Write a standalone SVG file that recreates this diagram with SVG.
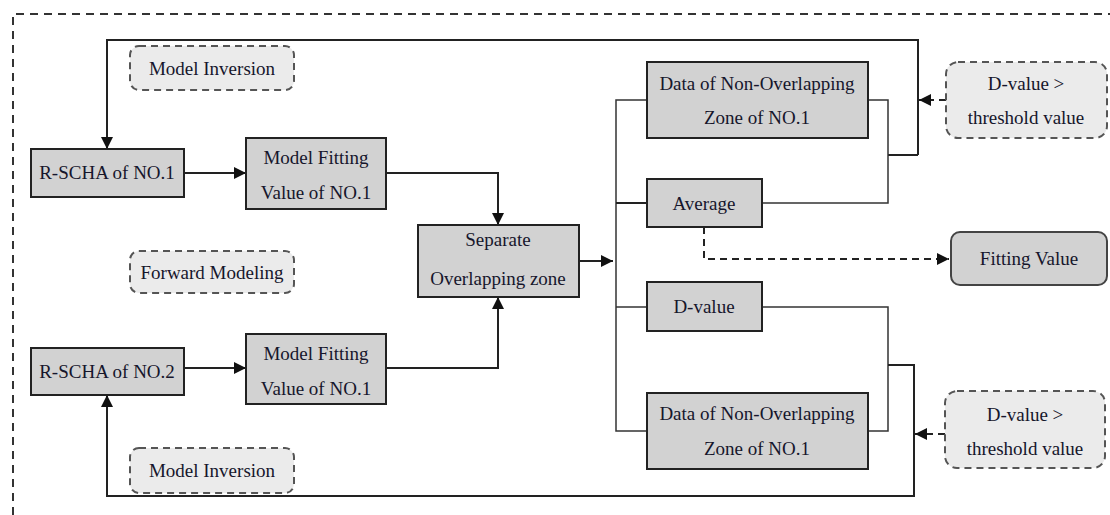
<svg xmlns="http://www.w3.org/2000/svg" width="1110" height="515" viewBox="0 0 1110 515">
<defs>
<style>
.box{fill:#d2d2d2;stroke:#222;stroke-width:2}
.lbl{fill:#ebebeb;stroke:#555;stroke-width:2;stroke-dasharray:7,5}
.t{font-family:"Liberation Serif","Times New Roman",serif;font-size:19px;fill:#16162c;text-anchor:middle}
.ln{fill:none;stroke:#222;stroke-width:2}
.bus{fill:none;stroke:#333;stroke-width:1.5}
.dash{fill:none;stroke:#222;stroke-width:2;stroke-dasharray:7,5}
</style>
<marker id="ah" viewBox="0 0 10 10" refX="10" refY="5" markerWidth="12" markerHeight="12" markerUnits="userSpaceOnUse" orient="auto">
<path d="M0,0 L10,5 L0,10 Z" fill="#111"/>
</marker>
</defs>
<rect width="1110" height="515" fill="#fff"/>
<path d="M13,515 V14 H1110" fill="none" stroke="#333" stroke-width="2" stroke-dasharray="8,6"/>

<g id="connectors">
<path class="ln" d="M918,155 V40 H107 V149" marker-end="url(#ah)"/>
<path class="ln" d="M888,155 H918"/>
<path class="bus" d="M868,100 H888 V203 H762"/>
<path class="ln" d="M184,173 H246" marker-end="url(#ah)"/>
<path class="ln" d="M386,173 H498 V225" marker-end="url(#ah)"/>
<path class="ln" d="M184,368 H246" marker-end="url(#ah)"/>
<path class="ln" d="M386,368 H498 V297" marker-end="url(#ah)"/>
<path class="ln" d="M579,261 H613" marker-end="url(#ah)"/>
<path class="bus" d="M647,100 H616 V431 H647"/>
<path class="ln" d="M616,203 H647"/>
<path class="bus" d="M616,307 H647"/>
<path class="bus" d="M762,307 H888 V431 H868"/>
<path class="ln" d="M888,365 H914 V496 H107 V395" marker-end="url(#ah)"/>
<path class="dash" d="M704,227 V259 H949" marker-end="url(#ah)"/>
<path class="dash" d="M946,100 H919" marker-end="url(#ah)"/>
<path class="dash" d="M945,434 H915" marker-end="url(#ah)"/>
</g>

<g id="label-model-inversion-top">
<rect class="lbl" x="130" y="46" width="164" height="44" rx="9"/>
<text class="t" x="212" y="75">Model Inversion</text>
</g>
<g id="label-forward-modeling">
<rect class="lbl" x="130" y="251" width="164" height="42" rx="9"/>
<text class="t" x="212" y="279">Forward Modeling</text>
</g>
<g id="label-model-inversion-bottom">
<rect class="lbl" x="130" y="448" width="164" height="45" rx="9"/>
<text class="t" x="212" y="477">Model Inversion</text>
</g>

<g id="rscha1">
<rect class="box" x="31" y="149" width="153" height="48"/>
<text class="t" x="107" y="179">R-SCHA of NO.1</text>
</g>
<g id="fit1">
<rect class="box" x="246" y="138" width="140" height="71"/>
<text class="t" x="316" y="164">Model Fitting</text>
<text class="t" x="316" y="199">Value of NO.1</text>
</g>
<g id="rscha2">
<rect class="box" x="31" y="348" width="153" height="47"/>
<text class="t" x="107" y="378">R-SCHA of NO.2</text>
</g>
<g id="fit2">
<rect class="box" x="246" y="334" width="140" height="70"/>
<text class="t" x="316" y="360">Model Fitting</text>
<text class="t" x="316" y="395">Value of NO.1</text>
</g>
<g id="separate">
<rect class="box" x="418" y="225" width="161" height="72"/>
<text class="t" x="498" y="246">Separate</text>
<text class="t" x="498" y="285">Overlapping zone</text>
</g>
<g id="data1">
<rect class="box" x="647" y="62" width="221" height="76"/>
<text class="t" x="757" y="90">Data of Non-Overlapping</text>
<text class="t" x="757" y="124">Zone of NO.1</text>
</g>
<g id="average">
<rect class="box" x="647" y="179" width="115" height="48"/>
<text class="t" x="704" y="210">Average</text>
</g>
<g id="dvalue">
<rect class="box" x="647" y="282" width="115" height="49"/>
<text class="t" x="704" y="313">D-value</text>
</g>
<g id="data2">
<rect class="box" x="647" y="393" width="221" height="76"/>
<text class="t" x="757" y="420">Data of Non-Overlapping</text>
<text class="t" x="757" y="455">Zone of NO.1</text>
</g>
<g id="fitting-value">
<rect class="box" x="951" y="232" width="156" height="53" rx="9" style="stroke:#444"/>
<text class="t" x="1029" y="265">Fitting Value</text>
</g>
<g id="threshold1">
<rect class="lbl" x="946" y="62" width="161" height="76" rx="12"/>
<text class="t" x="1026" y="90">D-value &gt;</text>
<text class="t" x="1026" y="124">threshold value</text>
</g>
<g id="threshold2">
<rect class="lbl" x="945" y="391" width="160" height="77" rx="12"/>
<text class="t" x="1025" y="421">D-value &gt;</text>
<text class="t" x="1025" y="455">threshold value</text>
</g>
</svg>
